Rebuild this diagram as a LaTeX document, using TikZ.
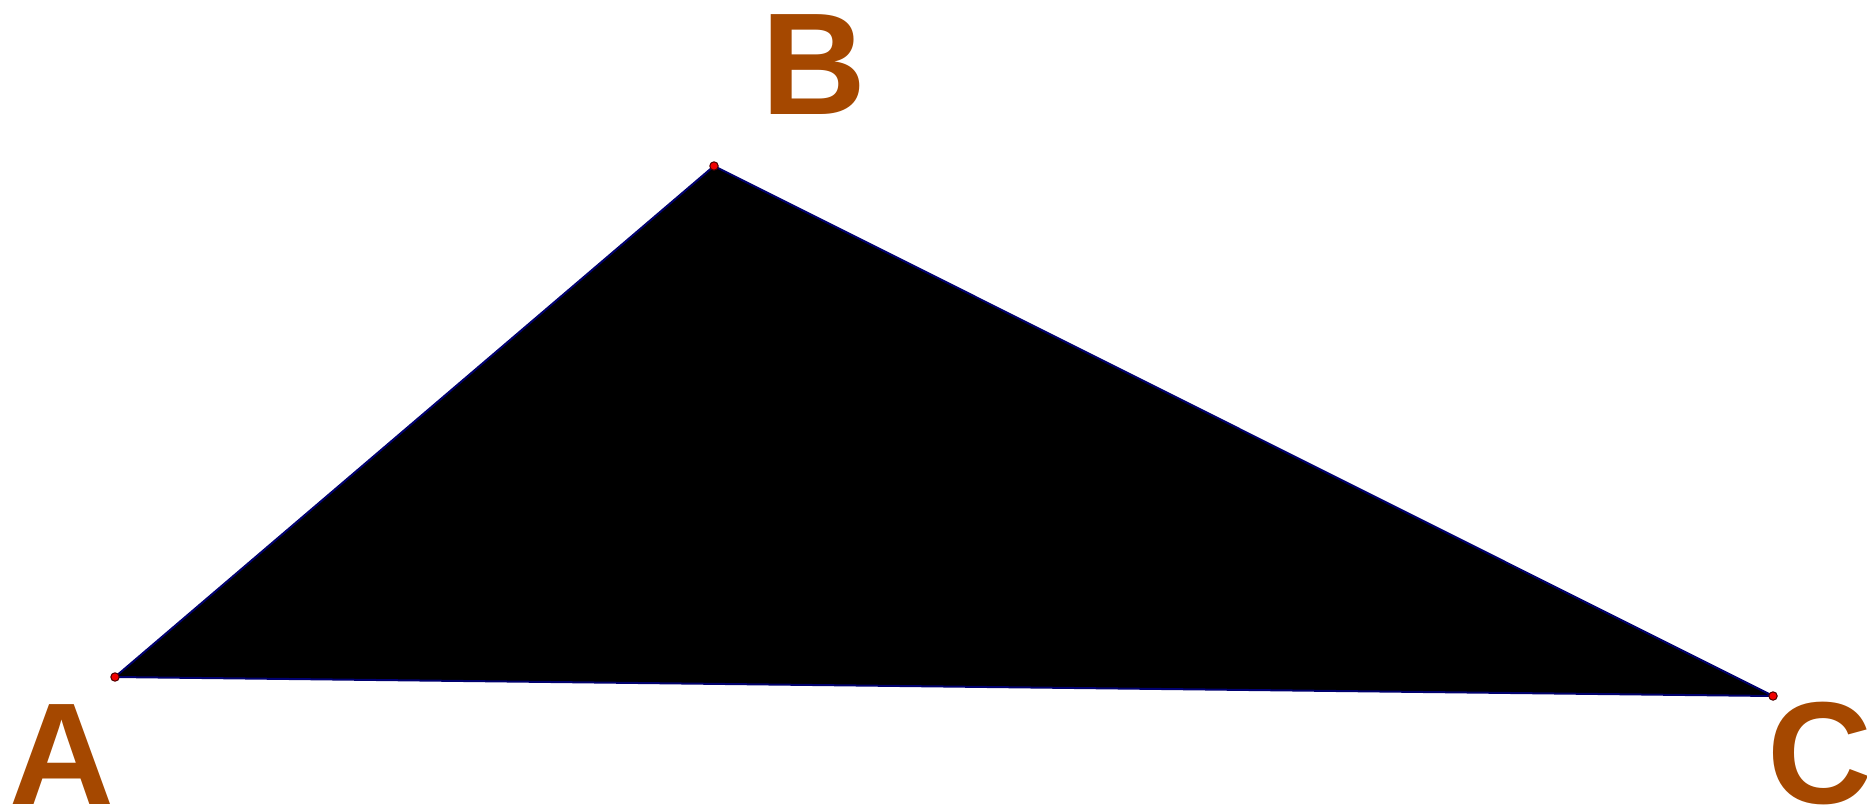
\documentclass[tikz,border=0pt]{standalone}
\usepackage{fontspec}
\setmainfont{Liberation Sans}
\definecolor{labelbrown}{RGB}{165,72,0}
\definecolor{edgenavy}{RGB}{0,0,110}
\definecolor{pointred}{RGB}{240,0,0}
\begin{document}
\begin{tikzpicture}[
    x=0.5pt, y=-0.5pt,
    vertex/.style={circle, fill=pointred, draw=black!70!red, line width=0.5pt, inner sep=0pt, minimum size=4.2pt},
    vlabel/.style={anchor=base, inner sep=0pt, text=labelbrown, font=\fontsize{72.6}{80}\selectfont\bfseries},
    side/.style={draw=edgenavy, line width=1pt, line join=round, fill=black},
]
    \useasboundingbox[fill=white] (0,0) rectangle (1867,808);

    % Corners of the triangle
    \coordinate (A) at (115,677);
    \coordinate (B) at (714,166);
    \coordinate (C) at (1773,696);

    % Filled triangle
    \path[side] (A) -- (B) -- (C) -- cycle;

    % Points
    \node[vertex] (pA) at (A) {};
    \node[vertex] (pB) at (B) {};
    \node[vertex] (pC) at (C) {};

    % Labels
    \node[vlabel] (lA) at (61.5,804) {A};
    \node[vlabel] (lB) at (813.5,114) {B};
    \node[vlabel] (lC) at (1820,803) {C};
\end{tikzpicture}
\end{document}
